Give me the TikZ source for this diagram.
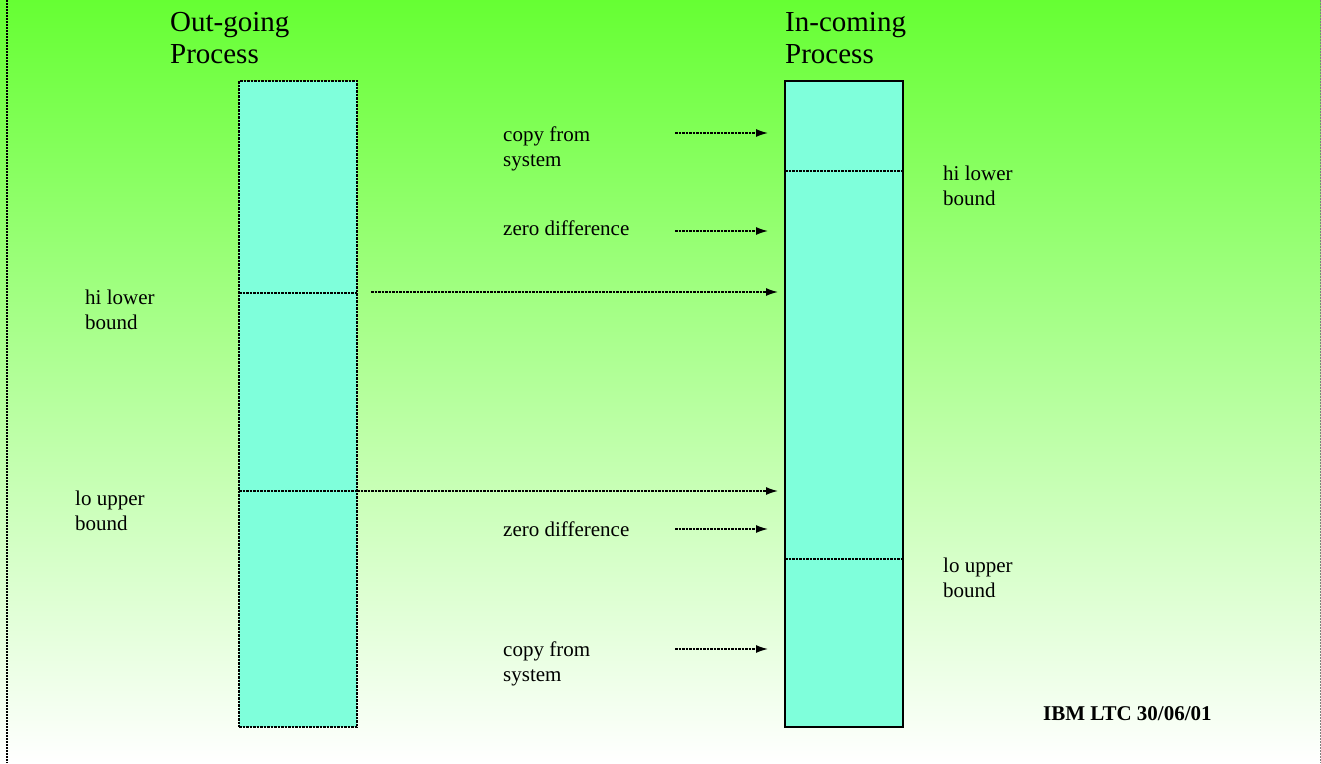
\documentclass[tikz,border=0pt]{standalone}
\usepackage{fontspec}
\setmainfont{Liberation Serif}
\usetikzlibrary{arrows.meta}
\definecolor{topgreen}{RGB}{102,255,51}
\definecolor{boxfill}{RGB}{127,255,219}
\begin{document}
\begin{tikzpicture}[x=1pt,y=-1pt,
  outbox/.style={draw=black,fill=boxfill,line width=1.6pt,dash pattern=on 2.5pt off 1pt,minimum width=118pt,minimum height=646pt,anchor=north west,inner sep=0pt,outer sep=0pt},
  inbox/.style={draw=black,fill=boxfill,line width=1.5pt,minimum width=118pt,minimum height=646pt,anchor=north west,inner sep=0pt,outer sep=0pt},
  divider/.style={line width=1.4pt,dash pattern=on 2.5pt off 1pt},
  arr/.style={line width=1.4pt,dash pattern=on 2.5pt off 1pt,-{Latex[length=12pt,width=8pt]}},
  title/.style={anchor=base west,inner sep=0pt,align=left,font=\fontsize{29}{32}\selectfont},
  lbl/.style={anchor=base west,inner sep=0pt,align=left,font=\fontsize{21}{25}\selectfont},
  stamp/.style={anchor=base west,inner sep=0pt,font=\fontsize{21}{25}\selectfont\bfseries}]
\shade[top color=topgreen,bottom color=white] (0,0) rectangle (1321,763);
\useasboundingbox (0,0) rectangle (1321,763);
\draw[line width=1.6pt,dash pattern=on 2pt off 1pt] (7,0) -- (7,763);
\draw[line width=1pt,gray,dash pattern=on 2pt off 1pt] (1320,0) -- (1320,763);
% boxes
\node[outbox] (L) at (239,81) {};
\node[inbox] (R) at (785,81) {};
% dividers
\coordinate (lhi) at (239,293);
\coordinate (llo) at (239,491);
\coordinate (rhi) at (785,171);
\coordinate (rlo) at (785,559);
\draw[divider] (lhi) -- (lhi -| L.east);
\draw[divider] (llo) -- (llo -| L.east);
\draw[divider] (rhi) -- (rhi -| R.east);
\draw[divider] (rlo) -- (rlo -| R.east);
% titles (anchor on baseline of last line)
\node[title] (t1) at (170,63) {Out-going\\Process};
\node[title] (t2) at (785,63) {In-coming\\Process};
% labels
\node[lbl] (lhl) at (85,329) {hi lower\\bound};
\node[lbl] (llu) at (75,530) {lo upper\\bound};
\node[lbl] (rhl) at (943,205) {hi lower\\bound};
\node[lbl] (rlu) at (943,597) {lo upper\\bound};
\node[lbl] (c1) at (503,166) {copy from\\system};
\node[lbl] (z1) at (503,235) {zero difference};
\node[lbl] (z2) at (503,536) {zero difference};
\node[lbl] (c2) at (503,681) {copy from\\system};
\node[stamp] (ibm) at (1043,720) {IBM LTC 30/06/01};
% short arrows
\coordinate (a1) at (675,133);
\coordinate (a2) at (675,231);
\coordinate (a3) at (675,529);
\coordinate (a4) at (675,649);
\foreach \a in {a1,a2,a3,a4}
  \draw[arr] (\a) -- ([xshift=-17pt]\a -| R.west);
% long arrows
\coordinate (b1) at (371,292);
\draw[arr] (b1) -- ([xshift=-7pt]b1 -| R.west);
\draw[arr] (llo -| L.east) -- ([xshift=-7pt]llo -| R.west);
\end{tikzpicture}
\end{document}
